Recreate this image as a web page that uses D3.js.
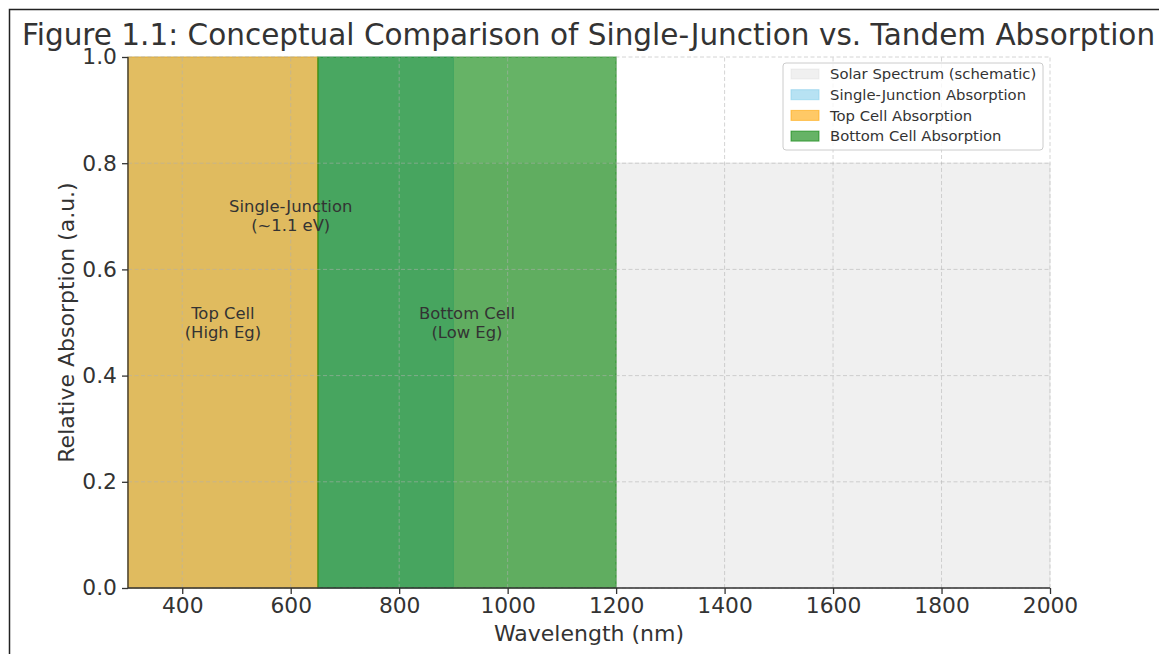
<!DOCTYPE html>
<head>
  <meta charset="utf-8">
  <script src="https://d3js.org/d3.v7.min.js"></script>
  <style>
    body { margin:0; background:#fff; }
    text { font-family: "DejaVu Sans", sans-serif; fill:#333; }
  </style>
</head>
<body>
<script>

/* Data */
/* ==== */

var regionNames  = ['Solar Spectrum (schematic)', 'Single-Junction Absorption', 'Top Cell Absorption', 'Bottom Cell Absorption'];
var regionStart  = [300, 300, 300, 650];
var regionEnd    = [2000, 900, 650, 1200];
var regionLevel  = [0.8, 1.0, 1.0, 1.0];

var noteLines = [['Single-Junction', '(~1.1 eV)'], ['Top Cell', '(High Eg)'], ['Bottom Cell', '(Low Eg)']];
var noteX     = [600, 475, 925];
var noteY     = [0.7, 0.5, 0.5];

var xTicks = [400, 600, 800, 1000, 1200, 1400, 1600, 1800, 2000];
var yTicks = [0, 0.2, 0.4, 0.6, 0.8, 1.0];

var colors = ['#d3d3d3', '#87ceeb', '#ffa500', '#008000'];
var alphas = [0.35, 0.6, 0.6, 0.6];


/* Set up */
/* ====== */

var width = 1159, height = 654;
var margin = { top: 57, right: 109, bottom: 66, left: 128 };

var svg = d3.select('body').append('svg')
    .attr('width', width)
    .attr('height', height);

// frame round the figure
svg.append('path')
    .attr('d', 'M9.5,' + height + 'V9.5H' + width)
    .attr('fill', 'none')
    .attr('stroke', '#222')
    .attr('stroke-width', 1.5);

var x = d3.scaleLinear().domain([300, 2000]).range([margin.left, width - margin.right]);
var y = d3.scaleLinear().domain([0, 1]).range([height - margin.bottom, margin.top]);

var area = d3.area()
    .x(function(d) { return x(d[0]); })
    .y0(y(0))
    .y1(function(d) { return y(d[1]); });

// filled bands
regionNames.forEach(function(name, i) {
  svg.append('path')
      .datum([[regionStart[i], regionLevel[i]], [regionEnd[i], regionLevel[i]]])
      .attr('d', area)
      .attr('fill', colors[i])
      .attr('fill-opacity', alphas[i])
      .attr('stroke', colors[i])
      .attr('stroke-opacity', alphas[i])
      .attr('stroke-width', 1.2);
});

// grid (on top of the fills)
var grid = svg.append('g').attr('stroke', '#b0b0b0').attr('stroke-opacity', 0.6)
    .attr('stroke-dasharray', '4,2.5').attr('stroke-width', 0.9);
grid.selectAll('.gx').data(xTicks).enter().append('line')
    .attr('x1', function(d) { return x(d); }).attr('x2', function(d) { return x(d); })
    .attr('y1', y(0)).attr('y2', y(1));
grid.selectAll('.gy').data(yTicks).enter().append('line')
    .attr('y1', function(d) { return y(d); }).attr('y2', function(d) { return y(d); })
    .attr('x1', x(300)).attr('x2', x(2000));

// annotations
noteLines.forEach(function(lines, i) {
  var t = svg.append('text')
      .attr('text-anchor', 'middle')
      .attr('font-size', 16.4)
      .attr('x', x(noteX[i]))
      .attr('y', y(noteY[i]) - 4);
  lines.forEach(function(l, j) {
    t.append('tspan').attr('x', x(noteX[i])).attr('dy', j ? 19 : 0).text(l);
  });
});

// axes
var xAxis = svg.append('g')
    .attr('transform', 'translate(0,' + y(0) + ')')
    .call(d3.axisBottom(x).tickValues(xTicks).tickSize(6).tickPadding(4).tickFormat(d3.format('d')));
var yAxis = svg.append('g')
    .attr('transform', 'translate(' + x(300) + ',0)')
    .call(d3.axisLeft(y).tickValues(yTicks).tickSize(6).tickPadding(5).tickFormat(d3.format('.1f')));

[xAxis, yAxis].forEach(function(a) {
  a.select('.domain').attr('stroke', '#333').attr('stroke-width', 1.3);
  a.selectAll('.tick line').attr('stroke', '#333').attr('stroke-width', 1.3);
  a.selectAll('.tick text').attr('font-size', 21.8).attr('font-family', '"DejaVu Sans", sans-serif').attr('fill', '#333');
});
xAxis.select('.domain').attr('d', 'M' + x(300) + ',0H' + x(2000));
yAxis.select('.domain').attr('d', 'M0,' + y(0) + 'V' + y(1));

svg.append('text')
    .attr('x', (x(300) + x(2000)) / 2)
    .attr('y', 641)
    .attr('text-anchor', 'middle')
    .attr('font-size', 22)
    .text('Wavelength (nm)');

svg.append('text')
    .attr('transform', 'translate(74,' + (y(0) + y(1)) / 2 + ') rotate(-90)')
    .attr('text-anchor', 'middle')
    .attr('font-size', 22)
    .text('Relative Absorption (a.u.)');

svg.append('text')
    .attr('x', 588.5)
    .attr('y', 45)
    .attr('text-anchor', 'middle')
    .attr('font-size', 29.5)
    .text('Figure 1.1: Conceptual Comparison of Single-Junction vs. Tandem Absorption');


/* Legend */
/* ====== */

var legend = svg.append('g').attr('transform', 'translate(783,63)');
legend.append('rect')
    .attr('width', 260).attr('height', 87).attr('rx', 3)
    .attr('fill', '#fff').attr('fill-opacity', 0.8)
    .attr('stroke', '#ccc');

var items = legend.selectAll('.item').data(regionNames).enter().append('g')
    .attr('transform', function(d, i) { return 'translate(0,' + (11 + i * 20.7) + ')'; });
items.append('rect')
    .attr('x', 8).attr('y', -5).attr('width', 28).attr('height', 10)
    .attr('fill', function(d, i) { return colors[i]; })
    .attr('fill-opacity', function(d, i) { return alphas[i]; })
    .attr('stroke', function(d, i) { return colors[i]; })
    .attr('stroke-opacity', function(d, i) { return alphas[i]; });
items.append('text')
    .attr('x', 47).attr('dy', '0.35em')
    .attr('font-size', 14.8)
    .text(function(d) { return d; });

</script>
</body>
